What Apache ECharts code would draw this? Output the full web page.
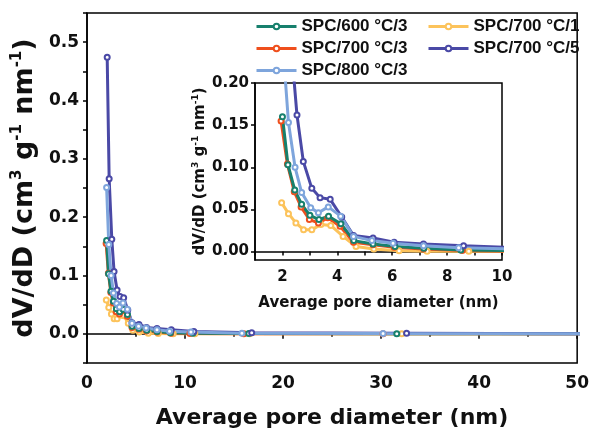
<!DOCTYPE html>
<html>
<head>
<meta charset="utf-8">
<script src="https://cdn.jsdelivr.net/npm/echarts@6/dist/echarts.min.js"></script>
<style>
  html, body { margin: 0; padding: 0; background: #fff; }
  #chart { width: 592px; height: 437px; }
</style>
</head>
<body>
<div id="chart"></div>
<script>
// series names and colours
const names = ['SPC/600 °C/3', 'SPC/700 °C/1', 'SPC/700 °C/3', 'SPC/700 °C/5', 'SPC/800 °C/3'];
const colors = ['#17806d', '#fcc35b', '#ef4f1d', '#4a49a6', '#7ea5dc'];

// pore diameter (nm) and dV/dD
const x600_3 = [2.0, 2.2, 2.45, 2.7, 3.0, 3.33, 3.68, 4.13, 4.6, 5.3, 6.1, 7.15, 8.5, 10.8, 16.5, 31.6, 55];
const y600_3 = [0.160, 0.103, 0.073, 0.056, 0.043, 0.038, 0.042, 0.033, 0.013, 0.009, 0.006, 0.004, 0.002, 0.001, 0.0005, 0.0002, 0];

const x700_1 = [1.97, 2.22, 2.49, 2.77, 3.07, 3.4, 3.76, 4.21, 4.68, 5.33, 6.25, 7.27, 8.79, 11.0, 16.6, 32.1, 55];
const y700_1 = [0.058, 0.045, 0.034, 0.026, 0.026, 0.032, 0.031, 0.018, 0.006, 0.003, 0.001, 0.0005, 0.0003, 0.0002, 0.0001, 0.0001, 0];

const x700_3 = [1.95, 2.18, 2.43, 2.68, 2.98, 3.31, 3.65, 4.1, 4.59, 5.3, 6.07, 7.14, 8.55, 10.5, 16.0, 30.2, 55];
const y700_3 = [0.155, 0.104, 0.071, 0.053, 0.038, 0.034, 0.040, 0.030, 0.011, 0.008, 0.005, 0.003, 0.0012, 0.0005, 0.0002, 0.0001, 0];

const x700_5 = [2.06, 2.26, 2.53, 2.76, 3.07, 3.37, 3.74, 4.16, 4.59, 5.3, 6.07, 7.14, 8.6, 10.9, 16.8, 32.6, 55];
const y700_5 = [0.474, 0.266, 0.162, 0.107, 0.075, 0.064, 0.062, 0.041, 0.019, 0.016, 0.011, 0.009, 0.007, 0.004, 0.002, 0.001, 0];

const x800_3 = [2.0, 2.22, 2.46, 2.7, 3.03, 3.31, 3.67, 4.12, 4.59, 5.26, 6.03, 7.14, 8.42, 10.6, 15.8, 30.2, 55];
const y800_3 = [0.251, 0.153, 0.100, 0.070, 0.052, 0.046, 0.053, 0.042, 0.018, 0.013, 0.010, 0.007, 0.0045, 0.003, 0.001, 0.0005, 0];

// tick labels
const mainYLabels = [0, 0.1, 0.2, 0.3, 0.4, 0.5];
const insetXLabels = [2, 4, 6, 8, 10];
const insetYTicks = [0, 0.05, 0.1, 0.15, 0.2];

const xs = [x600_3, x700_1, x700_3, x700_5, x800_3];
const ys = [y600_3, y700_1, y700_3, y700_5, y800_3];
const drawOrder = [1, 2, 0, 3, 4];

const titleFont = 'DejaVu Sans';
const legendFont = 'Liberation Sans';

function pairs(i) {
  return xs[i].map((v, k) => [v, ys[i][k]]);
}

function makeSeries(i, axisIndex) {
  return {
    name: names[i],
    type: 'line',
    xAxisIndex: axisIndex,
    yAxisIndex: axisIndex,
    data: pairs(i),
    symbol: 'emptyCircle',
    symbolSize: 5,
    clip: true,
    color: colors[i],
    lineStyle: { width: 3, color: colors[i] },
    itemStyle: { color: colors[i], borderColor: colors[i], borderWidth: 3 },
    emphasis: { disabled: true },
    animation: false
  };
}

const series = [];
drawOrder.forEach(i => series.push(makeSeries(i, 0)));
drawOrder.forEach(i => series.push(makeSeries(i, 1)));

const axisLine = { lineStyle: { color: '#000', width: 1.5 } };
const tickLine = { color: '#000', width: 1.5 };

const legendBase = {
  orient: 'vertical',
  top: 13,
  itemWidth: 40,
  itemHeight: 7,
  itemGap: 5,
  lineStyle: { width: 3 },
  itemStyle: { borderWidth: 2.5 },
  textStyle: { fontFamily: legendFont, fontWeight: 'bold', fontSize: 17, color: '#111' }
};

const chart = echarts.init(document.getElementById('chart'));

chart.setOption({
  backgroundColor: '#fff',
  animation: false,
  legend: [
    Object.assign({}, legendBase, { data: [names[0], names[2], names[4]], left: 250 }),
    Object.assign({}, legendBase, { data: [names[1], names[3]], left: 422 })
  ],
  grid: [
    { left: 87, right: 12, top: 13, bottom: 74, show: true, borderColor: '#000', borderWidth: 1.5 },
    { left: 255, right: 90, top: 83, bottom: 177, show: true, borderColor: '#000', borderWidth: 1.5, backgroundColor: '#fff' }
  ],
  xAxis: [
    {
      type: 'value', gridIndex: 0, min: 0, max: 50, interval: 10,
      name: 'Average pore diameter (nm)', nameLocation: 'middle', nameGap: 44,
      nameTextStyle: { fontFamily: titleFont, fontWeight: 'bold', fontSize: 22, color: '#111' },
      axisLine: axisLine,
      axisTick: { show: true, inside: false, length: 5, lineStyle: tickLine },
      minorTick: { show: true, splitNumber: 2, length: 3, lineStyle: tickLine },
      axisLabel: { fontFamily: titleFont, fontWeight: 'bold', fontSize: 17, color: '#111', margin: 12 },
      splitLine: { show: false }
    },
    {
      type: 'value', gridIndex: 1, min: 1, max: 10, interval: 1,
      name: 'Average pore diameter (nm)', nameLocation: 'middle', nameGap: 36,
      nameTextStyle: { fontFamily: titleFont, fontWeight: 'bold', fontSize: 15, color: '#111' },
      axisLine: axisLine,
      axisTick: { show: true, inside: false, length: 4, lineStyle: tickLine },
      axisLabel: { customValues: insetXLabels, fontFamily: titleFont, fontWeight: 'bold', fontSize: 15, color: '#111', margin: 10 },
      splitLine: { show: false }
    }
  ],
  yAxis: [
    {
      type: 'value', gridIndex: 0, min: -0.05, max: 0.55, interval: 0.05,
      name: '{b|dV/dD (cm}{s|3}{b| g}{s|-1}{b| nm}{s|-1}{b|)}',
      nameLocation: 'middle', nameRotate: 90, nameGap: 41,
      nameTextStyle: {
        rich: {
          b: { fontFamily: titleFont, fontWeight: 'bold', fontSize: 27, color: '#111', lineHeight: 30 },
          s: { fontFamily: titleFont, fontWeight: 'bold', fontSize: 15, color: '#111', lineHeight: 17, verticalAlign: 'top' }
        }
      },
      axisLine: axisLine,
      axisTick: { show: true, inside: false, length: 4, lineStyle: tickLine },
      axisLabel: {
        customValues: mainYLabels,
        formatter: v => v.toFixed(1),
        fontFamily: titleFont, fontWeight: 'bold', fontSize: 17, color: '#111', margin: 8
      },
      splitLine: { show: false }
    },
    {
      type: 'value', gridIndex: 1, min: -0.01, max: 0.2,
      name: '{b|dV/dD (cm}{s|3}{b| g}{s|-1}{b| nm}{s|-1}{b|)}',
      nameLocation: 'middle', nameRotate: 90, nameGap: 42,
      nameTextStyle: {
        rich: {
          b: { fontFamily: titleFont, fontWeight: 'bold', fontSize: 15, color: '#111', lineHeight: 18 },
          s: { fontFamily: titleFont, fontWeight: 'bold', fontSize: 9, color: '#111', lineHeight: 10, verticalAlign: 'top' }
        }
      },
      axisLine: axisLine,
      axisTick: { show: true, inside: false, length: 4, customValues: insetYTicks, lineStyle: tickLine },
      axisLabel: {
        customValues: insetYTicks,
        formatter: v => v.toFixed(2),
        fontFamily: titleFont, fontWeight: 'bold', fontSize: 15, color: '#111', margin: 6
      },
      splitLine: { show: false }
    }
  ],
  series: series
});
</script>
</body>
</html>
